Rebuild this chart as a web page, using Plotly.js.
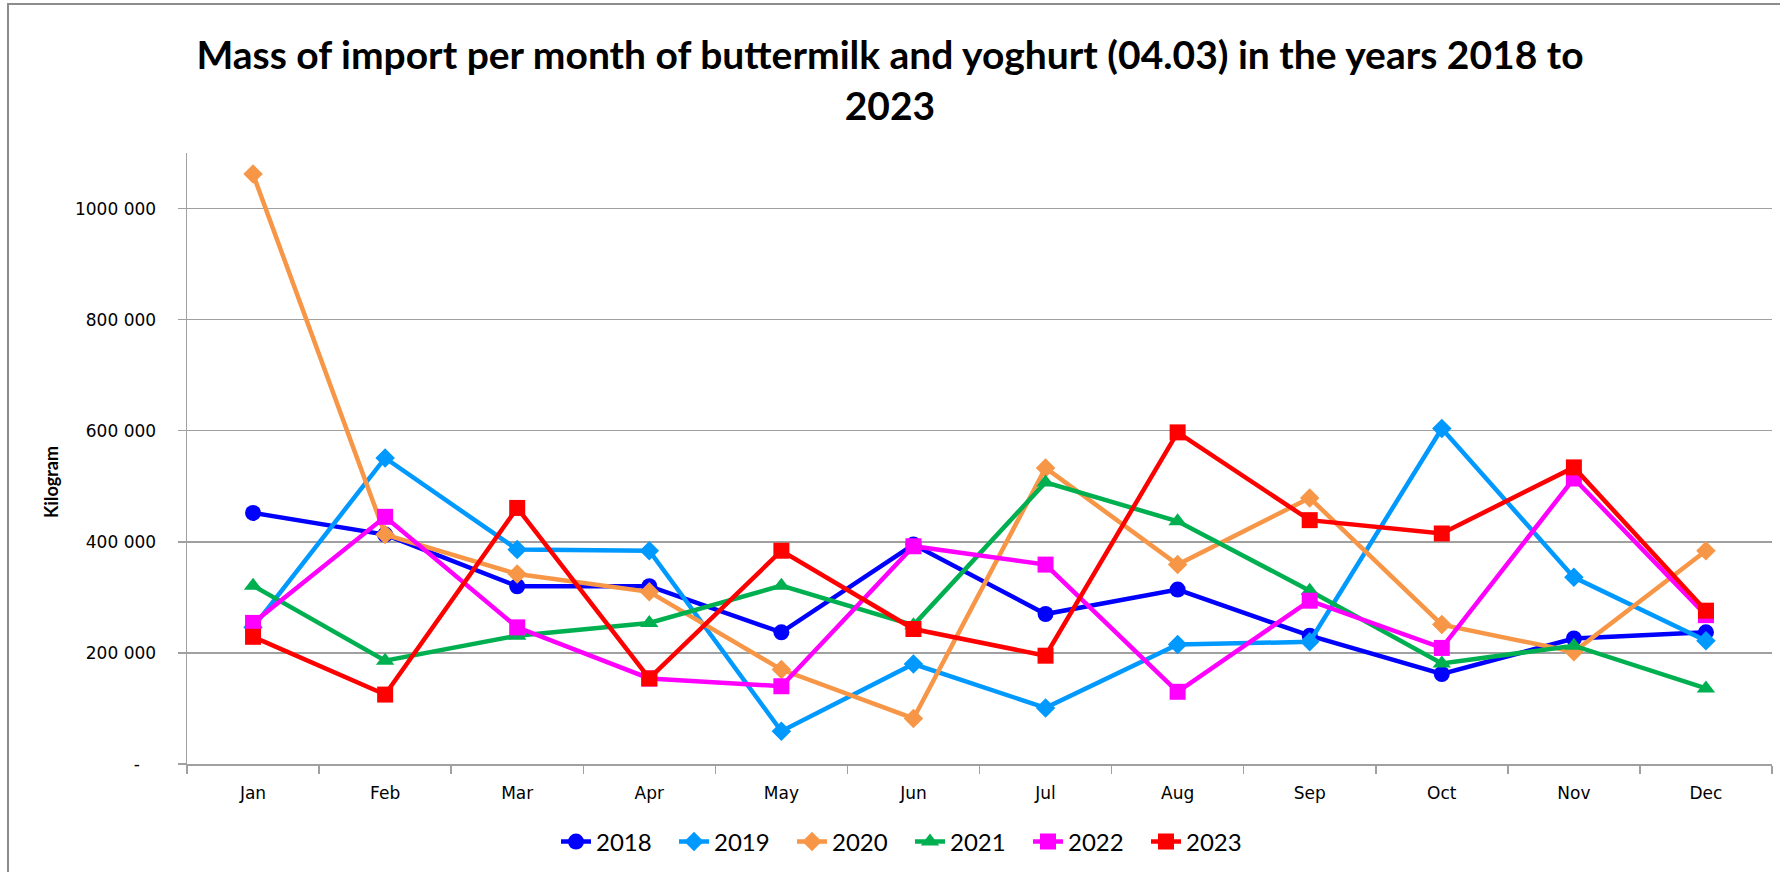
<!DOCTYPE html>
<html>
<head>
<meta charset="utf-8">
<script src="https://cdn.plot.ly/plotly-3.0.1.min.js"></script>
<style>
  html, body { margin: 0; padding: 0; background: #ffffff; overflow: hidden; }
  #chart { position: absolute; left: 0; top: 0; width: 1780px; height: 872px; }
  #frame { position: absolute; left: 7px; top: 3px; width: 1900px; height: 1000px;
           border-left: 2px solid #8c8c8c; border-top: 2px solid #8c8c8c; pointer-events: none; }
</style>
</head>
<body>
<div id="chart"></div>
<div id="frame"></div>
<script>
const months = ["Jan", "Feb", "Mar", "Apr", "May", "Jun", "Jul", "Aug", "Sep", "Oct", "Nov", "Dec"];

const y2018 = [452000, 413000, 320000, 320000, 237000, 395000, 270000, 314000, 231000, 162000, 226000, 237000];
const y2019 = [246000, 551000, 386000, 384000, 59000, 180000, 101000, 215000, 220000, 604000, 336000, 222000];
const y2020 = [1062000, 413000, 342000, 310000, 170000, 82000, 533000, 359000, 479000, 251000, 202000, 384000];
const y2021 = [321000, 186000, 231000, 254000, 321000, 250000, 507000, 437000, 312000, 181000, 213000, 136000];
const y2022 = [254000, 445000, 246000, 154000, 140000, 392000, 359000, 130000, 294000, 209000, 514000, 268000];
const y2023 = [229000, 125000, 461000, 154000, 384000, 243000, 195000, 597000, 439000, 415000, 534000, 276000];

const tickVals = [0, 200000, 400000, 600000, 800000, 1000000];
const tickText = ["-\u00a0\u00a0\u00a0", "200 000", "400 000", "600 000", "800 000", "1000 000"];

const seriesDefs = [
  { name: "2018", y: y2018, color: "#0000ff", symbol: "circle", size: 16 },
  { name: "2019", y: y2019, color: "#0099ff", symbol: "diamond", size: 15 },
  { name: "2020", y: y2020, color: "#f79646", symbol: "diamond", size: 15 },
  { name: "2021", y: y2021, color: "#00b050", symbol: "triangle-up", size: 16 },
  { name: "2022", y: y2022, color: "#ff00ff", symbol: "square", size: 16 },
  { name: "2023", y: y2023, color: "#ff0000", symbol: "square", size: 16 }
];

const traces = seriesDefs.map(s => ({
  type: "scatter",
  mode: "lines+markers",
  name: s.name,
  x: months,
  y: s.y,
  line: { color: s.color, width: 4.5 },
  marker: { color: s.color, symbol: s.symbol, size: s.size, line: { width: 0 } }
}));

const narrow = "Lato, 'Liberation Sans', sans-serif";

const layout = {
  width: 1780,
  height: 872,
  paper_bgcolor: "#ffffff",
  plot_bgcolor: "#ffffff",
  margin: { l: 187, r: 8, t: 153, b: 108 },
  showlegend: true,
  title: {
    text: "<b>Mass of import per month of buttermilk and yoghurt (04.03) in the years 2018 to<br>2023</b>",
    font: { family: narrow, size: 39, color: "#000000" },
    x: 0.5, xref: "container", xanchor: "center",
    y: 1 - 69 / 872, yref: "container", yanchor: "middle"
  },
  xaxis: {
    type: "category",
    categoryorder: "array",
    categoryarray: months,
    range: [-0.5, 11.5],
    showline: true,
    linecolor: "#a0a0a0",
    linewidth: 1.5,
    showgrid: false,
    ticks: "outside",
    tickson: "boundaries",
    ticklen: 8,
    tickcolor: "#a0a0a0",
    tickwidth: 1.5,
    ticklabelstandoff: 13,
    tickfont: { family: "'DejaVu Sans', sans-serif", size: 17, color: "#000000" },
    zeroline: false,
    fixedrange: true
  },
  yaxis: {
    range: [0, 1100000],
    tickmode: "array",
    tickvals: tickVals,
    ticktext: tickText,
    showline: true,
    linecolor: "#a0a0a0",
    linewidth: 1.5,
    showgrid: true,
    gridcolor: "#a0a0a0",
    gridwidth: 1.5,
    ticks: "outside",
    ticklen: 8,
    tickcolor: "#a0a0a0",
    tickwidth: 1.5,
    ticklabelstandoff: 18,
    tickfont: { family: "'DejaVu Sans', sans-serif", size: 17, color: "#000000" },
    zeroline: false,
    fixedrange: true
  },
  legend: {
    orientation: "h",
    xref: "paper",
    x: (556 - 187) / 1585,
    xanchor: "left",
    yref: "container",
    y: 1 - 842 / 872,
    yanchor: "middle",
    font: { family: narrow, size: 24, color: "#000000" },
    itemwidth: 30,
    entrywidth: 73,
    entrywidthmode: "pixels",
    tracegroupgap: 0
  },
  annotations: [{
    text: "<b>Kilogram</b>",
    textangle: -90,
    xref: "paper", yref: "paper",
    x: (51 - 187) / 1585, y: (764 - 482) / 611,
    xanchor: "center", yanchor: "middle",
    showarrow: false,
    font: { family: narrow, size: 18, color: "#000000" }
  }]
};

Plotly.newPlot("chart", traces, layout, { displayModeBar: false, staticPlot: true });
</script>
</body>
</html>
